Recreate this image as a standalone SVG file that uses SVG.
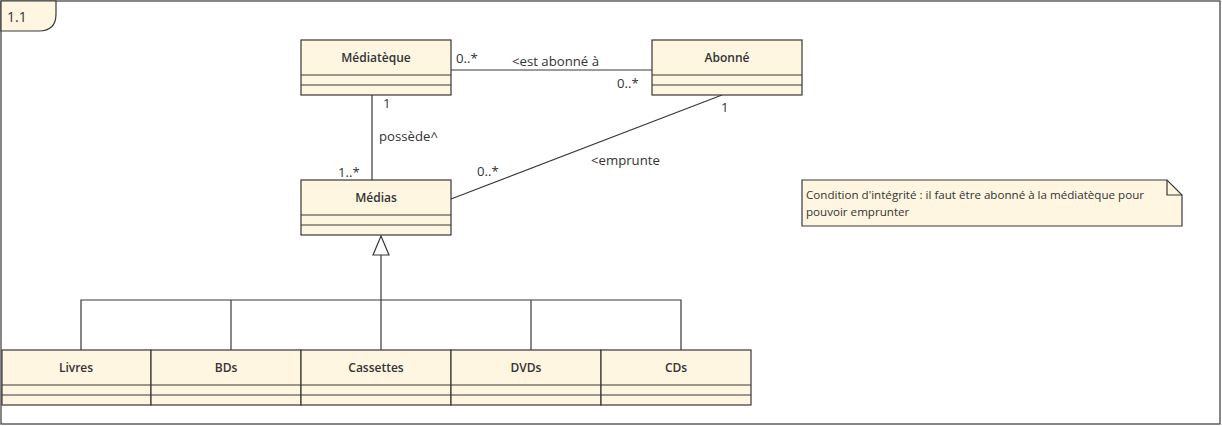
<svg xmlns="http://www.w3.org/2000/svg" width="1222" height="426" viewBox="0 0 1222 426">
<style>
.box{fill:#FEF6E1;stroke:#383838;stroke-width:1.2}
.ln{stroke:#383838;stroke-width:1.2;fill:none}
.nm{font-family:"Open Sans","DejaVu Sans",sans-serif;font-size:12px;font-weight:600;fill:#333;text-anchor:middle}
.lb{font-family:"Open Sans","DejaVu Sans",sans-serif;font-size:13.2px;fill:#333}
.nt{font-family:"Open Sans","DejaVu Sans",sans-serif;font-size:11.6px;fill:#333}
</style>
<rect width="1222" height="426" fill="#fff"/>
<g id="frame">
<rect x="1" y="1" width="1219" height="423" fill="none" stroke="#383838" stroke-width="1.2"/>
<path d="M1,1 H56 V14 Q56,31 39,31 H1 Z" class="box"/>
<text x="7" y="22" class="lb" style="font-size:14px">1.1</text>
</g>
<g id="connectors">
<line x1="451" y1="70" x2="652" y2="70" class="ln"/>
<line x1="372" y1="95" x2="372" y2="180" class="ln"/>
<line x1="451" y1="199" x2="722" y2="95" class="ln"/>
<polygon points="381,236 373,255 389,255" fill="#fff" stroke="#383838" stroke-width="1.2"/>
<line x1="381" y1="255" x2="381" y2="350" class="ln"/>
<polyline points="81,350 81,300 681,300 681,350" class="ln"/>
<line x1="231" y1="300" x2="231" y2="350" class="ln"/>
<line x1="531" y1="300" x2="531" y2="350" class="ln"/>
<text x="456" y="63" class="lb">0..*</text>
<text x="512" y="66" class="lb">&lt;est abonné à</text>
<text x="617" y="88" class="lb">0..*</text>
<text x="383" y="108" class="lb">1</text>
<text x="379" y="141" class="lb">possède^</text>
<text x="338" y="177" class="lb">1..*</text>
<text x="721" y="112" class="lb">1</text>
<text x="591" y="165" class="lb">&lt;emprunte</text>
<text x="477" y="176" class="lb">0..*</text>
</g>
<g id="Mediateque">
<rect x="301" y="40" width="150" height="55" class="box"/>
<line x1="301" y1="75" x2="451" y2="75" class="ln"/>
<line x1="301" y1="85" x2="451" y2="85" class="ln"/>
<text x="376" y="62" class="nm">Médiatèque</text>
</g>
<g id="Abonne">
<rect x="652" y="40" width="150" height="55" class="box"/>
<line x1="652" y1="75" x2="802" y2="75" class="ln"/>
<line x1="652" y1="85" x2="802" y2="85" class="ln"/>
<text x="727" y="62" class="nm">Abonné</text>
</g>
<g id="Medias">
<rect x="301" y="180" width="150" height="55" class="box"/>
<line x1="301" y1="215" x2="451" y2="215" class="ln"/>
<line x1="301" y1="225" x2="451" y2="225" class="ln"/>
<text x="376" y="202" class="nm">Médias</text>
</g>
<g id="Livres">
<rect x="2" y="350" width="149" height="55" class="box"/>
<line x1="2" y1="385" x2="151" y2="385" class="ln"/>
<line x1="2" y1="395" x2="151" y2="395" class="ln"/>
<text x="76" y="372" class="nm">Livres</text>
</g>
<g id="BDs">
<rect x="151" y="350" width="150" height="55" class="box"/>
<line x1="151" y1="385" x2="301" y2="385" class="ln"/>
<line x1="151" y1="395" x2="301" y2="395" class="ln"/>
<text x="226" y="372" class="nm">BDs</text>
</g>
<g id="Cassettes">
<rect x="301" y="350" width="150" height="55" class="box"/>
<line x1="301" y1="385" x2="451" y2="385" class="ln"/>
<line x1="301" y1="395" x2="451" y2="395" class="ln"/>
<text x="376" y="372" class="nm">Cassettes</text>
</g>
<g id="DVDs">
<rect x="451" y="350" width="150" height="55" class="box"/>
<line x1="451" y1="385" x2="601" y2="385" class="ln"/>
<line x1="451" y1="395" x2="601" y2="395" class="ln"/>
<text x="526" y="372" class="nm">DVDs</text>
</g>
<g id="CDs">
<rect x="601" y="350" width="150" height="55" class="box"/>
<line x1="601" y1="385" x2="751" y2="385" class="ln"/>
<line x1="601" y1="395" x2="751" y2="395" class="ln"/>
<text x="676" y="372" class="nm">CDs</text>
</g>
<g id="note">
<path d="M802,180 H1167 L1182,195 V226 H802 Z" class="box"/>
<path d="M1167,180 V195 H1182" class="ln"/>
<text x="806" y="199" class="nt">Condition d'intégrité : il faut être abonné à la médiatèque pour</text>
<text x="806" y="216" class="nt">pouvoir emprunter</text>
</g>
</svg>
